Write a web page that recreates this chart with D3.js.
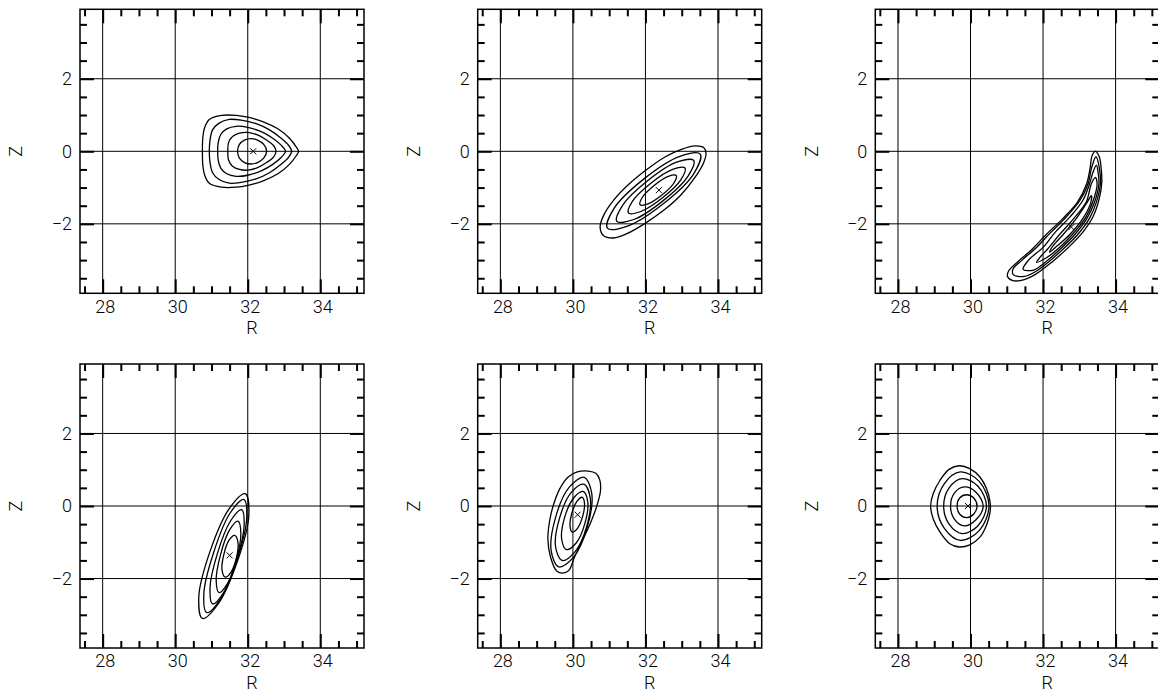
<!DOCTYPE html>
<html>
<head>
<meta charset="utf-8">
<script src="https://cdn.jsdelivr.net/npm/d3@7"></script>
<style>
  html, body { margin: 0; padding: 0; background: #fff; }
  svg { display: block; }
</style>
</head>
<body>
<svg id="chart" width="1158" height="693"></svg>
<script>
// Axis ranges (R horizontal, Z vertical, equal aspect)
const rDomain = [27.375, 35.205];
const zDomain = [-3.915, 3.915];

const rMajorTicks = [28, 30, 32, 34];
const zMajorTicks = [-2, 0, 2];
const rMinorTicks = [27.5, 28.5, 29, 29.5, 30.5, 31, 31.5, 32.5, 33, 33.5, 34.5, 35];
const zMinorTicks = [-3.5, -3, -2.5, -1.5, -1, -0.5, 0.5, 1, 1.5, 2.5, 3, 3.5];
const rTickLabels = ["28", "30", "32", "34"];
const zTickLabels = ["\u22122", "0", "2"];
const rTitle = "R";
const zTitle = "Z";

// Nested contours for each panel, outermost first, as [R, Z] points.
const contoursA = [
  [[30.75,0],[30.76,0.36],[30.81,0.65],[30.94,0.88],[31.28,0.99],[31.68,0.99],[32.00,0.94],[32.41,0.82],[32.83,0.62],[33.15,0.36],[33.33,0.13],[33.40,0],[33.33,-0.13],[33.15,-0.36],[32.83,-0.62],[32.41,-0.82],[32.00,-0.94],[31.68,-0.99],[31.28,-0.99],[30.94,-0.88],[30.81,-0.65],[30.76,-0.36]],
  [[30.94,0],[30.96,0.31],[31.03,0.59],[31.20,0.77],[31.49,0.88],[31.86,0.85],[32.23,0.76],[32.60,0.59],[32.92,0.36],[33.13,0.16],[33.21,0],[33.13,-0.16],[32.92,-0.36],[32.60,-0.59],[32.23,-0.76],[31.86,-0.85],[31.49,-0.88],[31.20,-0.77],[31.03,-0.59],[30.96,-0.31]],
  [[31.17,0],[31.19,0.27],[31.26,0.47],[31.42,0.62],[31.68,0.69],[32.00,0.66],[32.37,0.54],[32.69,0.36],[32.92,0.17],[33.04,0],[32.92,-0.17],[32.69,-0.36],[32.37,-0.54],[32.00,-0.66],[31.68,-0.69],[31.42,-0.62],[31.26,-0.47],[31.19,-0.27]],
  [[31.45,0],[31.47,0.24],[31.58,0.41],[31.77,0.50],[32.00,0.52],[32.27,0.45],[32.52,0.31],[32.71,0.16],[32.78,0],[32.71,-0.16],[32.52,-0.31],[32.27,-0.45],[32.00,-0.52],[31.77,-0.50],[31.58,-0.41],[31.47,-0.24]],
  [[31.72,0],[31.77,0.19],[31.91,0.31],[32.09,0.35],[32.27,0.31],[32.44,0.19],[32.52,0],[32.44,-0.19],[32.27,-0.31],[32.09,-0.35],[31.91,-0.31],[31.77,-0.19]]
];

const contoursB = [
  [[33.67,-0.05],[33.61,0.10],[33.37,0.15],[33.01,0.06],[32.55,-0.15],[32.00,-0.53],[31.54,-0.91],[31.13,-1.34],[30.85,-1.76],[30.75,-2.09],[30.85,-2.33],[31.12,-2.39],[31.49,-2.27],[32.00,-1.98],[32.51,-1.62],[32.97,-1.21],[33.38,-0.70],[33.61,-0.30]],
  [[33.51,-0.08],[32.95,-0.14],[31.96,-0.76],[31.13,-1.58],[30.95,-2.12],[31.51,-2.06],[32.50,-1.44],[33.33,-0.62]],
  [[33.33,-0.25],[32.86,-0.30],[32.05,-0.82],[31.37,-1.49],[31.21,-1.93],[31.68,-1.88],[32.49,-1.36],[33.17,-0.69]],
  [[33.09,-0.46],[32.75,-0.50],[32.15,-0.88],[31.64,-1.38],[31.53,-1.70],[31.87,-1.66],[32.47,-1.28],[32.98,-0.78]],
  [[32.85,-0.67],[32.63,-0.69],[32.24,-0.94],[31.92,-1.26],[31.85,-1.47],[32.07,-1.45],[32.46,-1.20],[32.78,-0.88]]
];

const contoursC = [
  [[33.44,0.00],[33.55,-0.15],[33.60,-0.45],[33.62,-0.85],[33.55,-1.30],[33.38,-1.80],[33.12,-2.20],[32.75,-2.60],[32.25,-3.05],[31.78,-3.40],[31.40,-3.56],[31.15,-3.56],[31.02,-3.45],[31.05,-3.30],[31.30,-3.05],[31.70,-2.70],[32.08,-2.30],[32.55,-1.85],[32.95,-1.40],[33.20,-0.90],[33.30,-0.45],[33.35,-0.12]],
  [[33.46,-0.15],[33.55,-0.45],[33.58,-0.90],[33.47,-1.40],[33.28,-1.85],[32.95,-2.30],[32.55,-2.70],[32.15,-3.05],[31.82,-3.30],[31.48,-3.45],[31.18,-3.40],[31.17,-3.25],[31.42,-3.00],[31.82,-2.65],[32.20,-2.25],[32.65,-1.80],[33.02,-1.35],[33.24,-0.90],[33.34,-0.45]],
  [[33.47,-0.38],[33.52,-0.60],[33.54,-0.90],[33.42,-1.40],[33.21,-1.85],[32.87,-2.30],[32.47,-2.70],[32.07,-3.05],[31.72,-3.28],[31.45,-3.25],[31.60,-3.00],[32.00,-2.65],[32.32,-2.25],[32.75,-1.80],[33.10,-1.35],[33.28,-0.90],[33.37,-0.60]],
  [[33.44,-0.72],[33.49,-0.90],[33.37,-1.40],[33.16,-1.85],[32.80,-2.30],[32.40,-2.70],[32.07,-2.95],[31.82,-3.06],[31.92,-2.92],[32.12,-2.70],[32.45,-2.30],[32.85,-1.85],[33.19,-1.40],[33.33,-0.90]],
  [[33.33,-1.22],[33.32,-1.40],[33.10,-1.85],[32.73,-2.30],[32.40,-2.60],[32.18,-2.78],[32.28,-2.60],[32.55,-2.30],[32.92,-1.85],[33.22,-1.40]]
];

const contoursD = [
  [[31.93,0.34],[31.49,-0.07],[30.96,-1.25],[30.65,-2.51],[30.75,-3.10],[31.19,-2.69],[31.72,-1.51],[32.03,-0.26]],
  [[31.89,0.18],[31.51,-0.20],[31.06,-1.28],[30.79,-2.41],[30.87,-2.94],[31.25,-2.56],[31.70,-1.49],[31.97,-0.35]],
  [[31.83,-0.10],[31.52,-0.42],[31.16,-1.32],[30.96,-2.26],[31.03,-2.70],[31.34,-2.38],[31.70,-1.48],[31.90,-0.54]],
  [[31.73,-0.42],[31.50,-0.66],[31.25,-1.34],[31.13,-2.06],[31.21,-2.39],[31.44,-2.14],[31.69,-1.46],[31.81,-0.75]],
  [[31.64,-0.81],[31.48,-0.95],[31.34,-1.34],[31.29,-1.76],[31.38,-1.96],[31.54,-1.82],[31.69,-1.42],[31.73,-1.00]]
];

const contoursE = [
  [[30.43,0.96],[30.63,0.90],[30.74,0.72],[30.76,0.42],[30.66,0.00],[30.47,-0.50],[30.25,-0.97],[30.04,-1.42],[29.90,-1.76],[29.78,-1.84],[29.56,-1.80],[29.38,-1.40],[29.31,-0.90],[29.36,-0.40],[29.46,0.02],[29.64,0.48],[29.87,0.80],[30.12,0.94]],
  [[30.31,0.79],[29.90,0.52],[29.52,-0.32],[29.40,-1.23],[29.61,-1.68],[30.02,-1.41],[30.40,-0.57],[30.52,0.34]],
  [[30.30,0.60],[29.95,0.37],[29.63,-0.34],[29.52,-1.11],[29.70,-1.50],[30.05,-1.27],[30.38,-0.56],[30.48,0.21]],
  [[30.28,0.40],[30.02,0.22],[29.77,-0.32],[29.69,-0.91],[29.82,-1.20],[30.09,-1.02],[30.33,-0.48],[30.41,0.11]],
  [[30.26,0.24],[30.11,0.13],[29.97,-0.20],[29.92,-0.55],[29.98,-0.72],[30.13,-0.61],[30.27,-0.28],[30.32,0.07]]
];

const contoursF = [
  [[29.69,1.11],[29.98,1.03],[30.26,0.80],[30.44,0.48],[30.54,0.11],[30.54,-0.17],[30.44,-0.53],[30.26,-0.86],[29.98,-1.07],[29.69,-1.13],[29.43,-1.04],[29.16,-0.72],[28.97,-0.35],[28.90,0.00],[28.97,0.34],[29.16,0.71],[29.41,1.01]],
  [[29.08,0],[29.28,0.62],[29.72,0.94],[30.24,0.68],[30.51,0],[30.24,-0.68],[29.72,-0.95],[29.28,-0.62]],
  [[29.26,0],[29.41,0.50],[29.77,0.755],[30.20,0.55],[30.44,0],[30.20,-0.55],[29.77,-0.76],[29.41,-0.50]],
  [[29.45,0],[29.56,0.36],[29.83,0.525],[30.15,0.38],[30.35,0],[30.15,-0.38],[29.83,-0.55],[29.56,-0.37]],
  [[29.63,0],[29.70,0.22],[29.90,0.31],[30.09,0.22],[30.18,0],[30.09,-0.22],[29.90,-0.32],[29.70,-0.22]]
];

// Position of the maximum in each panel
const peakR = [32.15, 32.37, 32.78, 31.50, 30.13, 29.93];
const peakZ = [0.00, -1.07, -2.09, -1.36, -0.24, 0.00];

const panelContours = [contoursA, contoursB, contoursC, contoursD, contoursE, contoursF];

// ---- layout ----
const size = 284;
const colLeft = [80, 477.7, 875.3];
const rowTop = [9.3, 364];
const fontFamily = "Roboto, 'DejaVu Sans', sans-serif";
const fontSize = 18;

const svg = d3.select("#chart");
svg.append("rect").attr("width", 1158).attr("height", 693).attr("fill", "#fff");

const x = d3.scaleLinear().domain(rDomain).range([0, size]);
const y = d3.scaleLinear().domain(zDomain).range([size, 0]);

const contourLine = d3.line()
  .x(d => x(d[0]))
  .y(d => y(d[1]))
  .curve(d3.curveCatmullRomClosed.alpha(0.5));

function styleAxis(sel, width) {
  sel.select(".domain").remove();
  sel.selectAll(".tick line").attr("stroke", "#000").attr("stroke-width", width);
}

panelContours.forEach((contours, i) => {
  const g = svg.append("g")
    .attr("transform", `translate(${colLeft[i % 3]},${rowTop[Math.floor(i / 3)]})`);

  // grid at major ticks
  g.append("g").selectAll("line").data(rMajorTicks).join("line")
    .attr("x1", d => x(d)).attr("x2", d => x(d))
    .attr("y1", 0).attr("y2", size)
    .attr("stroke", "#000").attr("stroke-width", 1);
  g.append("g").selectAll("line").data(zMajorTicks).join("line")
    .attr("y1", d => y(d)).attr("y2", d => y(d))
    .attr("x1", 0).attr("x2", size)
    .attr("stroke", "#000").attr("stroke-width", 1);

  // minor ticks on all four sides
  g.append("g").attr("transform", `translate(0,${size})`)
    .call(d3.axisBottom(x).tickValues(rMinorTicks).tickSize(-7).tickFormat(""))
    .call(s => styleAxis(s, 2));
  g.append("g")
    .call(d3.axisTop(x).tickValues(rMinorTicks).tickSize(-7).tickFormat(""))
    .call(s => styleAxis(s, 2));
  g.append("g")
    .call(d3.axisLeft(y).tickValues(zMinorTicks).tickSize(-7).tickFormat(""))
    .call(s => styleAxis(s, 2));
  g.append("g").attr("transform", `translate(${size},0)`)
    .call(d3.axisRight(y).tickValues(zMinorTicks).tickSize(-7).tickFormat(""))
    .call(s => styleAxis(s, 2));

  // major ticks (labelled on bottom and left)
  const bottom = g.append("g").attr("transform", `translate(0,${size})`)
    .call(d3.axisBottom(x).tickValues(rMajorTicks).tickSize(-14).tickPadding(6.5)
      .tickFormat((d, k) => rTickLabels[k]))
    .call(s => styleAxis(s, 2));
  bottom.selectAll("text")
    .attr("font-family", fontFamily).attr("font-size", fontSize).attr("font-weight", 300)
    .attr("fill", "#000").attr("dx", 2);

  const left = g.append("g")
    .call(d3.axisLeft(y).tickValues(zMajorTicks).tickSize(-14).tickPadding(8)
      .tickFormat((d, k) => zTickLabels[k]))
    .call(s => styleAxis(s, 2));
  left.selectAll("text")
    .attr("font-family", fontFamily).attr("font-size", fontSize).attr("font-weight", 300)
    .attr("fill", "#000");

  g.append("g")
    .call(d3.axisTop(x).tickValues(rMajorTicks).tickSize(-14).tickFormat(""))
    .call(s => styleAxis(s, 2));
  g.append("g").attr("transform", `translate(${size},0)`)
    .call(d3.axisRight(y).tickValues(zMajorTicks).tickSize(-14).tickFormat(""))
    .call(s => styleAxis(s, 2));

  // frame
  g.append("rect").attr("x", 0).attr("y", 0).attr("width", size).attr("height", size)
    .attr("fill", "none").attr("stroke", "#000").attr("stroke-width", 1.5);

  // axis titles
  g.append("text").text(rTitle)
    .attr("x", 172).attr("y", size + 40.6)
    .attr("text-anchor", "middle")
    .attr("font-family", fontFamily).attr("font-size", fontSize).attr("font-weight", 300);
  g.append("text").text(zTitle)
    .attr("transform", `translate(-64,${size / 2}) rotate(-90)`)
    .attr("text-anchor", "middle").attr("dy", "0.35em")
    .attr("font-family", fontFamily).attr("font-size", fontSize).attr("font-weight", 300);

  // contours
  g.append("g").selectAll("path").data(contours).join("path")
    .attr("d", contourLine)
    .attr("fill", "none").attr("stroke", "#000").attr("stroke-width", 1.3);

  // maximum marker
  g.append("path")
    .attr("transform", `translate(${x(peakR[i])},${y(peakZ[i])})`)
    .attr("d", "M-3,-3L3,3M-3,3L3,-3")
    .attr("stroke", "#000").attr("stroke-width", 1);
});
</script>
</body>
</html>
